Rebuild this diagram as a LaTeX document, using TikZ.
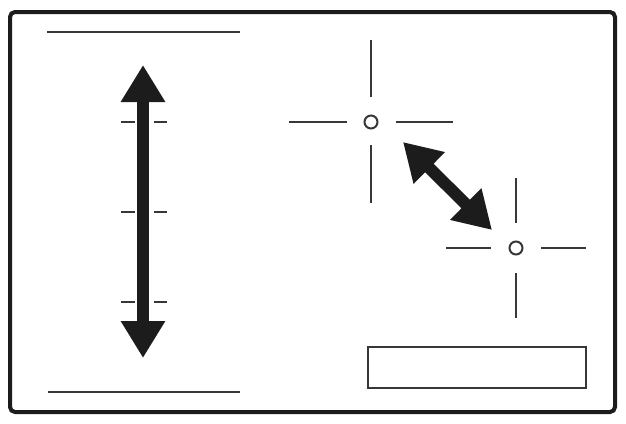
\documentclass[tikz,border=0pt]{standalone}
\usepackage{tikz}
\usetikzlibrary{arrows.meta}
\definecolor{inkblack}{RGB}{28, 28, 28}
\definecolor{linegray}{RGB}{55, 55, 55}

\tikzset{
    thinline/.style={color=linegray, line width=2.2pt},
    bigarrow/.style={color=inkblack, line width=12pt,
        {Triangle[width=42pt,length=37pt]}-{Triangle[width=42pt,length=37pt]}},
    target/.style={circle, draw=linegray, line width=2pt, minimum size=13pt, inner sep=0pt, fill=white}
}

\begin{document}
\begin{tikzpicture}[x=1pt, y=-1pt]
            \useasboundingbox (0,0) rectangle (626,423);
            % Frame
            \draw[color=inkblack, line width=4pt, rounded corners=5pt] (10,12) rectangle (615,412);
            % Upper & lower limit lines
            \draw[thinline] ( 47, 32) -- (240, 32);
            \draw[thinline] ( 48,392) -- (240,392);
            % Vertical arrow with ticks
            \coordinate (vtop) at (143, 65);
            \coordinate (vbot) at (143,358);
            \draw[bigarrow] (vtop) -- (vbot);
            \foreach \y in {122, 212, 302} {
                \draw[thinline] (121,\y) -- (135,\y);
                \draw[thinline] (154,\y) -- (167,\y);
            }
            % Crosshair one
            \node[target] (ca) at (371,122) {};
            \draw[thinline] (371, 40) -- (371, 97);
            \draw[thinline] (371,145) -- (371,203);
            \draw[thinline] (289,122) -- (347,122);
            \draw[thinline] (396,122) -- (453,122);
            % Crosshair two
            \node[target] (cb) at (516,248) {};
            \draw[thinline] (516,178) -- (516,223);
            \draw[thinline] (516,273) -- (516,318);
            \draw[thinline] (446,248) -- (491,248);
            \draw[thinline] (541,248) -- (586,248);
            % Diagonal arrow
            \coordinate (da) at (403,142);
            \coordinate (db) at (492,230);
            \draw[bigarrow] (da) -- (db);
            % Box
            \draw[color=linegray, line width=1.8pt] (368,347) rectangle (586,388);
        \end{tikzpicture}
\end{document}
